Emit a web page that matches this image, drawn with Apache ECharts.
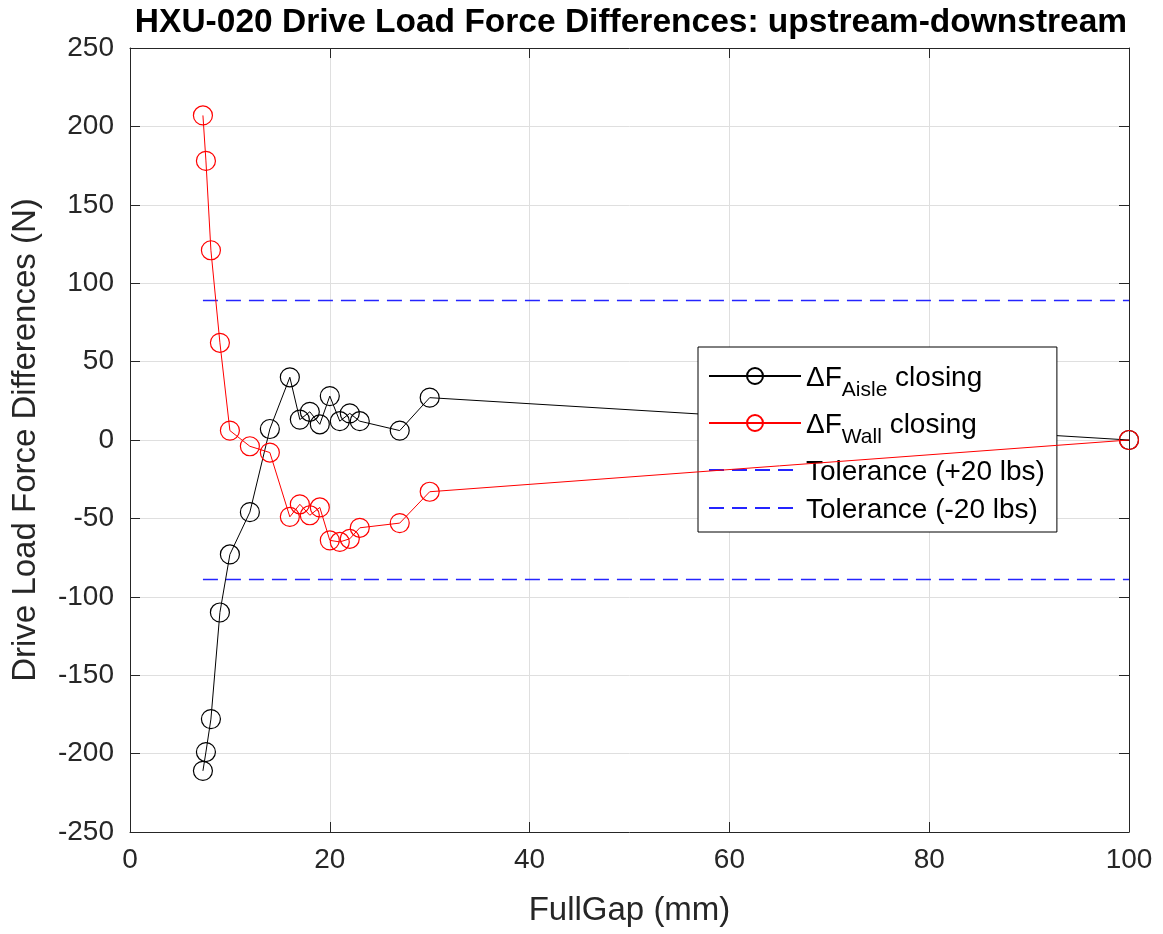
<!DOCTYPE html>
<html>
<head>
<meta charset="utf-8">
<script src="https://cdn.jsdelivr.net/npm/echarts@6/dist/echarts.min.js"></script>
<style>
  html, body { margin: 0; padding: 0; background: #fff; }
  #chart { width: 1163px; height: 934px; }
</style>
</head>
<body>
<div id="chart"></div>
<script>
// Gap positions (mm), shared by both measured series
const fullGap = [7.3, 7.6, 8.1, 9, 10, 12, 14, 16, 17, 18, 19, 20, 21, 22, 23, 27, 30, 100];
// upstream - downstream force difference (N), aisle side, closing
const dFAisle = [-211, -199, -178, -110, -73, -46, 7, 40, 13, 18, 10, 28, 12, 17, 12, 6, 27, 0];
// upstream - downstream force difference (N), wall side, closing
const dFWall = [207, 178, 121, 62, 6, -4, -8, -49, -41, -48, -43, -64, -65, -63, -56, -53, -33, 0];
// tolerance band: +/- 20 lbf expressed in newtons
const tolLbf = 20;
const lbfToN = 4.44822;
const tolSpan = [7.3, 100];
const xTicks = [0, 20, 40, 60, 80, 100];
const yTicks = [-250, -200, -150, -100, -50, 0, 50, 100, 150, 200, 250];

const legendLabels = {
  aisle: '{m|ΔF}{s|Aisle}{m| closing}',
  wall: '{m|ΔF}{s|Wall}{m| closing}',
  tolPlus: '{m|Tolerance (+20 lbs)}',
  tolMinus: '{m|Tolerance (-20 lbs)}'
};

const FONT = '"Liberation Sans", Arial, Helvetica, sans-serif';
const AXIS_COLOR = '#262626';
const TOL_COLOR = '#2424ff';

const pairs = (xs, ys) => xs.map((x, i) => [x, ys[i]]);
const tolN = tolLbf * lbfToN;

const chart = echarts.init(document.getElementById('chart'), null, { renderer: 'canvas' });

// box outline: mirrored top / right axes with inward ticks only
const mirrorAxis = () => ({
  axisLabel: { show: false },
  axisLine: { show: true, onZero: false, lineStyle: { color: AXIS_COLOR, width: 1 } },
  axisTick: { show: true, inside: true, length: 10, lineStyle: { color: AXIS_COLOR } },
  splitLine: { show: false }
});

const noMarker = { color: 'rgba(0,0,0,0)', borderWidth: 0 };

const tolSeries = (name, sign) => ({
  name: name,
  type: 'line',
  xAxisIndex: 0,
  yAxisIndex: 0,
  data: tolSpan.map(x => [x, sign * tolN]),
  symbol: 'none',
  color: TOL_COLOR,
  lineStyle: { color: TOL_COLOR, width: 1.6, opacity: 1, type: [15, 8] },
  itemStyle: { color: TOL_COLOR },
  emphasis: { disabled: true },
  z: 2
});

chart.setOption({
  animation: false,
  backgroundColor: '#fff',
  title: {
    text: 'HXU-020 Drive Load Force Differences: upstream-downstream',
    left: 626,
    textAlign: 'center',
    top: 1,
    textStyle: { fontFamily: FONT, fontSize: 33.5, fontWeight: 'bold', color: '#000' }
  },
  grid: { left: 130, right: 34, top: 48, bottom: 102, containLabel: false },
  legend: {
    data: [
      { name: 'aisle' },
      { name: 'wall' },
      { name: 'tolPlus', itemStyle: noMarker },
      { name: 'tolMinus', itemStyle: noMarker }
    ],
    orient: 'vertical',
    left: 698,
    top: 347,
    backgroundColor: '#fff',
    borderColor: '#000',
    borderWidth: 1,
    borderRadius: 0,
    padding: [17, 12, 8, 10],
    itemWidth: 92,
    itemHeight: 20,
    itemGap: 10,
    selectedMode: false,
    formatter: name => legendLabels[name],
    textStyle: {
      fontFamily: FONT,
      color: '#000',
      rich: {
        m: { fontFamily: FONT, fontSize: 28, color: '#000', verticalAlign: 'bottom', lineHeight: 32 },
        s: { fontFamily: FONT, fontSize: 21, color: '#000', verticalAlign: 'bottom', lineHeight: 32, padding: [0, 0, -9, 0] }
      }
    }
  },
  xAxis: [
    {
      type: 'value',
      min: 0, max: 100, interval: 20,
      name: 'FullGap (mm)',
      nameLocation: 'middle',
      nameGap: 62,
      nameTextStyle: { fontFamily: FONT, fontSize: 33, color: AXIS_COLOR },
      axisLine: { show: true, onZero: false, lineStyle: { color: AXIS_COLOR, width: 1 } },
      axisTick: { show: true, inside: true, length: 10, lineStyle: { color: AXIS_COLOR } },
      axisLabel: {
        fontFamily: FONT, fontSize: 28, color: AXIS_COLOR, margin: 14,
        formatter: v => xTicks.includes(v) ? String(v) : ''
      },
      splitLine: { show: true, lineStyle: { color: '#dfdfdf', width: 1 } }
    },
    Object.assign({ type: 'value', position: 'top', min: 0, max: 100, interval: 20 }, mirrorAxis())
  ],
  yAxis: [
    {
      type: 'value',
      min: -250, max: 250, interval: 50,
      name: 'Drive Load Force Differences (N)',
      nameLocation: 'middle',
      nameGap: 88,
      nameTextStyle: { fontFamily: FONT, fontSize: 33, color: AXIS_COLOR },
      axisLine: { show: true, onZero: false, lineStyle: { color: AXIS_COLOR, width: 1 } },
      axisTick: { show: true, inside: true, length: 10, lineStyle: { color: AXIS_COLOR } },
      axisLabel: {
        fontFamily: FONT, fontSize: 28, color: AXIS_COLOR, margin: 16,
        formatter: v => yTicks.includes(v) ? String(v) : ''
      },
      splitLine: { show: true, lineStyle: { color: '#dfdfdf', width: 1 } }
    },
    Object.assign({ type: 'value', position: 'right', min: -250, max: 250, interval: 50 }, mirrorAxis())
  ],
  series: [
    {
      name: 'aisle',
      type: 'line',
      xAxisIndex: 0,
      yAxisIndex: 0,
      data: pairs(fullGap, dFAisle),
      symbol: 'circle',
      symbolSize: 19,
      lineStyle: { color: '#000', width: 1 },
      itemStyle: { color: 'rgba(0,0,0,0)', borderColor: '#000', borderWidth: 1.2 },
      z: 3
    },
    {
      name: 'wall',
      type: 'line',
      xAxisIndex: 0,
      yAxisIndex: 0,
      data: pairs(fullGap, dFWall),
      symbol: 'circle',
      symbolSize: 19,
      lineStyle: { color: '#ff0000', width: 1 },
      itemStyle: { color: 'rgba(0,0,0,0)', borderColor: '#ff0000', borderWidth: 1.2 },
      z: 4
    },
    tolSeries('tolPlus', 1),
    tolSeries('tolMinus', -1)
  ]
});
</script>
</body>
</html>
